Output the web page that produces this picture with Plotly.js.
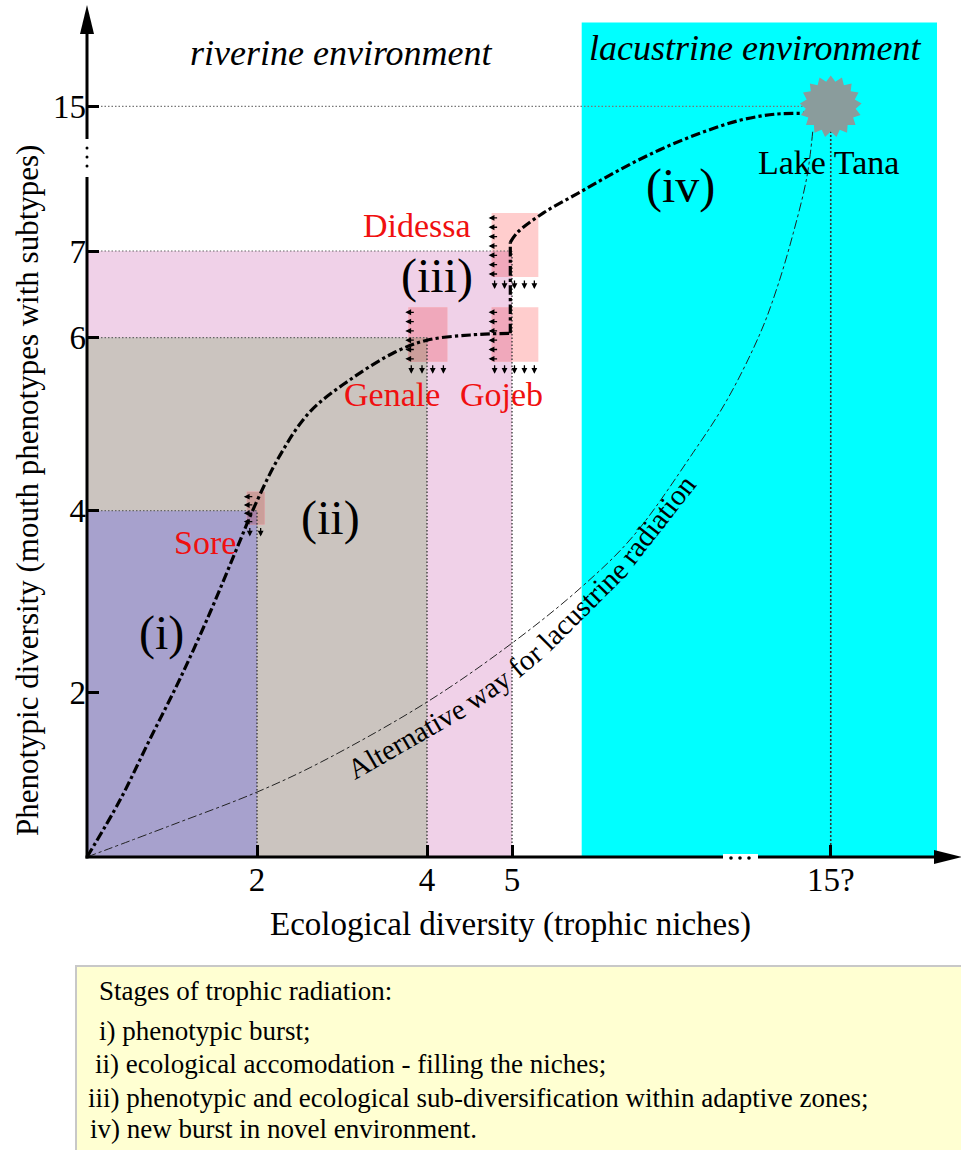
<!DOCTYPE html>
<html><head><meta charset="utf-8">
<script src="https://cdn.plot.ly/plotly-3.0.1.min.js"></script>
<style>html,body{margin:0;padding:0;background:#fff}#chart{width:961px;height:1150px}</style>
</head><body><div id="chart"></div>
<script>
// ---- data (axis positions; tick labels give the real values) ----
const xTickPos = [2, 4, 5, 8.75];
const xTickText = ['2', '4', '5', '15?'];
const yTickPos = [1.9, 4, 6, 7, 8.67];
const yTickText = ['2', '4', '6', '7', '15'];

const stageLabels = ['(i)', '(ii)', '(iii)', '(iv)'];
const stageX = [0.88, 2.86, 4.12, 6.98];
const stageY = [2.59, 3.92, 6.71, 7.75];

const zoneNames = ['stage iii', 'stage ii', 'stage i'];
const zoneEco = [5, 4, 2];
const zonePheno = [7, 6, 4];
const zoneColors = ['#f0d1e8', '#cbc4bf', '#a7a1cd'];

const lacustrineEco = [5.82, 10.0];
const lacustrineTop = 9.64;

const rivers = ['Sore', 'Genale', 'Gojeb', 'Didessa'];
const riverLabelX = [1.39, 3.59, 4.88, 3.88];
const riverLabelY = [3.63, 5.34, 5.34, 7.30];
const riverX0 = [1.88, 3.78, 4.76, 4.76];
const riverX1 = [2.09, 4.24, 5.31, 5.31];
const riverY0 = [3.84, 5.72, 5.72, 6.70];
const riverY1 = [4.22, 6.35, 6.35, 7.44];
const riverLeftArrows = [4, 6, 6, 7];
const riverDownArrows = [2, 4, 5, 5];

const lakeName = 'Lake Tana';
const lakeX = 8.75, lakeY = 8.67;

// main trajectory (stages i-iv)
const burstX = [0, 0.39, 0.74, 1.09, 1.45, 1.74, 1.98, 2.27, 2.62, 3.09, 3.62, 4.0, 4.51, 4.98];
const burstY = [0, 0.66, 1.36, 2.05, 2.83, 3.51, 4.07, 4.64, 5.14, 5.51, 5.83, 5.97, 6.03, 6.05];
const subDivX = [4.98, 4.98];
const subDivY = [6.05, 7.10];
const newBurstX = [4.98, 5.07, 5.37, 5.80, 6.27, 6.74, 7.21, 7.68, 8.09, 8.45];
const newBurstY = [7.10, 7.22, 7.44, 7.68, 7.94, 8.17, 8.36, 8.51, 8.58, 8.59];

// alternative way for lacustrine radiation
const altX = [0, 1.0, 2.0, 2.74, 4.0, 5.0, 5.82, 6.42, 7.13, 7.53, 7.92, 8.12, 8.31, 8.47, 8.54];
const altY = [0, 0.37, 0.75, 1.09, 1.79, 2.47, 3.12, 3.70, 4.67, 5.28, 6.05, 6.58, 7.21, 7.86, 8.40];
const altWords = ['Alternative', 'way', 'for', 'lacustrine', 'radiation'];
const altWordAngles = [30, 35, 40, 45, 52];
const altLabelStart = [3.15, 0.89];   // baseline start of the label

const legendLines = [
  'Stages of trophic radiation:',
  'i) phenotypic burst;',
  'ii) ecological accomodation - filling the niches;',
  'iii) phenotypic and ecological sub-diversification within adaptive zones;',
  'iv) new burst in novel environment.'
];

// ---- geometry helpers ----
const L = 87, T = 8, W = 874, H = 849;
const UX = 85, UY = 86.57;
const px = p => (p - L) / W;
const py = p => (T + H - p) / H;
const SERIF = 'Liberation Serif, Times New Roman, serif';

function rectTrace(x0, x1, y0, y1, color, name) {
  return {type: 'scatter', mode: 'none', x: [x0, x1, x1, x0, x0], y: [y0, y0, y1, y1, y0],
    fill: 'toself', fillcolor: color, hoverinfo: 'skip', name: name};
}
function hex2rgb(h) { return [1, 3, 5].map(i => parseInt(h.substr(i, 2), 16)); }
function multiply(a, b) {
  const A = hex2rgb(a), B = hex2rgb(b);
  return 'rgb(' + A.map((v, i) => Math.round(v * B[i] / 255)).join(',') + ')';
}
const patchColor = '#ffcdcd';

const traces = [];
traces.push(rectTrace(lacustrineEco[0], lacustrineEco[1], 0, lacustrineTop, '#00ffff', 'lacustrine'));
zoneNames.forEach((n, i) => traces.push(rectTrace(0, zoneEco[i], 0, zonePheno[i], zoneColors[i], n)));
rivers.forEach((r, i) => {
  traces.push(rectTrace(riverX0[i], riverX1[i], riverY0[i], riverY1[i], patchColor, r));
  zoneNames.forEach((n, j) => {
    const x0 = Math.max(riverX0[i], 0), x1 = Math.min(riverX1[i], zoneEco[j]);
    const y0 = Math.max(riverY0[i], 0), y1 = Math.min(riverY1[i], zonePheno[j]);
    if (x1 > x0 && y1 > y0) traces.push(rectTrace(x0, x1, y0, y1, multiply(zoneColors[j], patchColor), r + ' ' + n));
  });
});
const guideLine = {color: '#333', width: 1.3, dash: '1.5px,2px'};
zoneNames.forEach((n, i) => {
  traces.push({type: 'scatter', mode: 'lines', x: [0, zoneEco[i]], y: [zonePheno[i], zonePheno[i]], line: {color: '#666', width: 1.2, dash: '1.5px,2px'}, hoverinfo: 'skip'});
  traces.push({type: 'scatter', mode: 'lines', x: [zoneEco[i], zoneEco[i]], y: [0, zonePheno[i]], line: guideLine, hoverinfo: 'skip'});
});
traces.push({type: 'scatter', mode: 'lines', x: [0, lakeX], y: [lakeY, lakeY], line: {color: '#777', width: 1.2, dash: '1.5px,2px'}, hoverinfo: 'skip'});
traces.push({type: 'scatter', mode: 'lines', x: [lakeX, lakeX], y: [0, lakeY], line: {color: '#333', width: 1.6, dash: '2px,2px'}, hoverinfo: 'skip'});
traces.push({type: 'scatter', mode: 'lines', x: altX, y: altY, line: {color: '#222', width: 1, dash: 'dashdot', shape: 'spline', smoothing: 1}, hoverinfo: 'skip'});
const mainLine = {color: '#000', width: 3.2, dash: 'dashdot', shape: 'spline', smoothing: 1};
traces.push({type: 'scatter', mode: 'lines', x: burstX, y: burstY, line: mainLine, hoverinfo: 'skip'});
traces.push({type: 'scatter', mode: 'lines', x: subDivX, y: subDivY, line: {color: '#000', width: 3.2, dash: 'dashdot'}, hoverinfo: 'skip'});
traces.push({type: 'scatter', mode: 'lines', x: newBurstX, y: newBurstY, line: mainLine, hoverinfo: 'skip'});

// ---- shapes: axes with arrows and breaks, lake star, legend box ----
const shapes = [];
shapes.push({type: 'line', xref: 'paper', yref: 'paper', x0: 0, x1: 0, y0: py(858.5), y1: py(30), line: {color: '#000', width: 3}, layer: 'above'});
shapes.push({type: 'path', xref: 'paper', yref: 'paper', path: `M${px(87)},${py(5)} L${px(80)},${py(34)} L${px(94)},${py(34)} Z`, fillcolor: '#000', line: {width: 0}, layer: 'above'});
shapes.push({type: 'line', xref: 'paper', yref: 'paper', x0: px(85.5), x1: px(940), y0: 0, y1: 0, line: {color: '#000', width: 3}, layer: 'above'});
shapes.push({type: 'path', xref: 'paper', yref: 'paper', path: `M${px(962)},${py(857)} L${px(934)},${py(850)} L${px(934)},${py(864)} Z`, fillcolor: '#000', line: {width: 0}, layer: 'above'});
shapes.push({type: 'line', xref: 'paper', yref: 'paper', x0: 0, x1: 0, y0: py(139), y1: py(177), line: {color: '#fff', width: 6}, layer: 'above'});
[148, 157, 166].forEach(v => shapes.push({type: 'circle', xref: 'paper', yref: 'paper', x0: px(85.5), x1: px(88.5), y0: py(v - 1.5), y1: py(v + 1.5), fillcolor: '#000', line: {width: 0}, layer: 'above'}));
shapes.push({type: 'line', xref: 'paper', yref: 'paper', x0: px(723), x1: px(758), y0: 0, y1: 0, line: {color: '#fff', width: 6}, layer: 'above'});
[731, 740, 749].forEach(v => shapes.push({type: 'circle', xref: 'paper', yref: 'paper', x0: px(v - 1.8), x1: px(v + 1.8), y0: py(859.8), y1: py(856.2), fillcolor: '#000', line: {width: 0}, layer: 'above'}));
(function () {
  const n = 17, ro = 31, ri = 25, pts = [];
  for (let k = 0; k < 2 * n; k++) {
    const r = k % 2 ? ri : ro, a = Math.PI * k / n + Math.PI / 2;
    pts.push((r * Math.cos(a)).toFixed(2) + ',' + (r * Math.sin(a)).toFixed(2));
  }
  shapes.push({type: 'path', xref: 'x', yref: 'y', xsizemode: 'pixel', ysizemode: 'pixel', xanchor: lakeX, yanchor: lakeY,
    path: 'M' + pts.join(' L') + ' Z', fillcolor: '#8a9c9c', line: {width: 0}, layer: 'above'});
})();
shapes.push({type: 'rect', xref: 'paper', yref: 'paper', x0: px(76), x1: px(975), y0: py(966), y1: py(1165), fillcolor: '#ffffd2', line: {color: '#c8c8c8', width: 2}, layer: 'above'});

// ---- annotations ----
const ann = [];
const txt = (x, y, text, size, color, extra) => Object.assign({x: x, y: y, xref: 'x', yref: 'y', text: text, showarrow: false,
  font: {family: SERIF, size: size, color: color}, xanchor: 'center', yanchor: 'middle'}, extra || {});
stageLabels.forEach((s, i) => ann.push(txt(stageX[i], stageY[i], s, 48, '#000')));
rivers.forEach((r, i) => ann.push(txt(riverLabelX[i], riverLabelY[i], r, 34, '#f01010')));
ann.push(txt(8.72, 8.02, lakeName, 34, '#000'));
ann.push(txt(2.99, 9.29, '<i>riverine environment</i>', 36, '#000'));
ann.push(txt(7.87, 9.34, '<i>lacustrine environment</i>', 36, '#000'));

// label following the alternative curve, word by word
(function () {
  const size = 29;
  const ctx = document.createElement('canvas').getContext('2d');
  ctx.font = size + 'px "Liberation Serif"';
  const sp = ctx.measureText(' ').width;
  let bx = L + altLabelStart[0] * UX, by = T + H - altLabelStart[1] * UY;
  altWords.forEach((w, i) => {
    const a = altWordAngles[i] * Math.PI / 180, wd = ctx.measureText(w).width;
    if (i > 0) { bx += sp * Math.cos(a); by -= sp * Math.sin(a); }
    const mx = bx + wd / 2 * Math.cos(a), my = by - wd / 2 * Math.sin(a);
    const cx = mx - 0.34 * size * Math.sin(a), cy = my - 0.34 * size * Math.cos(a);
    ann.push(txt((cx - L) / UX, (T + H - cy) / UY, w, size, '#000', {textangle: -altWordAngles[i]}));
    bx += wd * Math.cos(a); by -= wd * Math.sin(a);
  });
})();

rivers.forEach((r, i) => {
  const x0 = riverX0[i], x1 = riverX1[i], y0 = riverY0[i], y1 = riverY1[i];
  const nL = riverLeftArrows[i], hPx = (y1 - y0) * UY;
  for (let k = 0; k < nL; k++) {
    const off = 5 + k * (hPx - 8) / (nL - 1);
    ann.push({x: x0 - 3 / UX, y: y1 - off / UY, xref: 'x', yref: 'y', ax: 10, ay: 0, text: '', showarrow: true,
      arrowhead: 2, arrowsize: 0.9, arrowwidth: 1.3, arrowcolor: '#000', standoff: 0, startstandoff: 0});
  }
  const nD = riverDownArrows[i], wPx = (x1 - x0) * UX;
  for (let k = 0; k < nD; k++) {
    const off = 3 + k * (wPx - 7) / Math.max(nD - 1, 1);
    ann.push({x: x0 + off / UX, y: y0 - 12 / UY, xref: 'x', yref: 'y', ax: 0, ay: -10, text: '', showarrow: true,
      arrowhead: 2, arrowsize: 0.9, arrowwidth: 1.3, arrowcolor: '#000', standoff: 0, startstandoff: 0});
  }
});
ann.push({xref: 'paper', yref: 'paper', x: px(510), y: py(925), text: 'Ecological diversity (trophic niches)', showarrow: false,
  font: {family: SERIF, size: 33, color: '#000'}, xanchor: 'center', yanchor: 'middle'});
ann.push({xref: 'paper', yref: 'paper', x: px(27), y: py(491), text: 'Phenotypic diversity (mouth phenotypes with subtypes)', showarrow: false,
  textangle: -90, font: {family: SERIF, size: 31, color: '#000'}, xanchor: 'center', yanchor: 'middle'});
const legendPx = [97, 97, 93, 86, 88];
const legendPy = [991, 1031, 1064, 1098, 1129];
legendLines.forEach((l, i) => ann.push({xref: 'paper', yref: 'paper', x: px(legendPx[i]), y: py(legendPy[i]), text: l, showarrow: false,
  font: {family: SERIF, size: 27, color: '#000'}, xanchor: 'left', yanchor: 'middle'}));

const axisCommon = {showgrid: false, zeroline: false, showline: false, tickmode: 'array', ticks: 'inside', ticklen: 12,
  tickwidth: 3, tickcolor: '#000', tickfont: {family: SERIF, size: 33, color: '#000'}, fixedrange: true};
const layout = {
  width: 961, height: 1150, margin: {l: L, r: 0, t: T, b: 1150 - T - H, pad: 0},
  paper_bgcolor: '#fff', plot_bgcolor: 'rgba(0,0,0,0)', showlegend: false,
  xaxis: Object.assign({}, axisCommon, {range: [0, W / UX], tickvals: xTickPos, ticktext: xTickText}),
  yaxis: Object.assign({}, axisCommon, {range: [0, H / UY], tickvals: yTickPos, ticktext: yTickText}),
  shapes: shapes, annotations: ann, font: {family: SERIF}
};
Plotly.newPlot('chart', traces, layout, {displayModeBar: false, staticPlot: true});
</script></body></html>
